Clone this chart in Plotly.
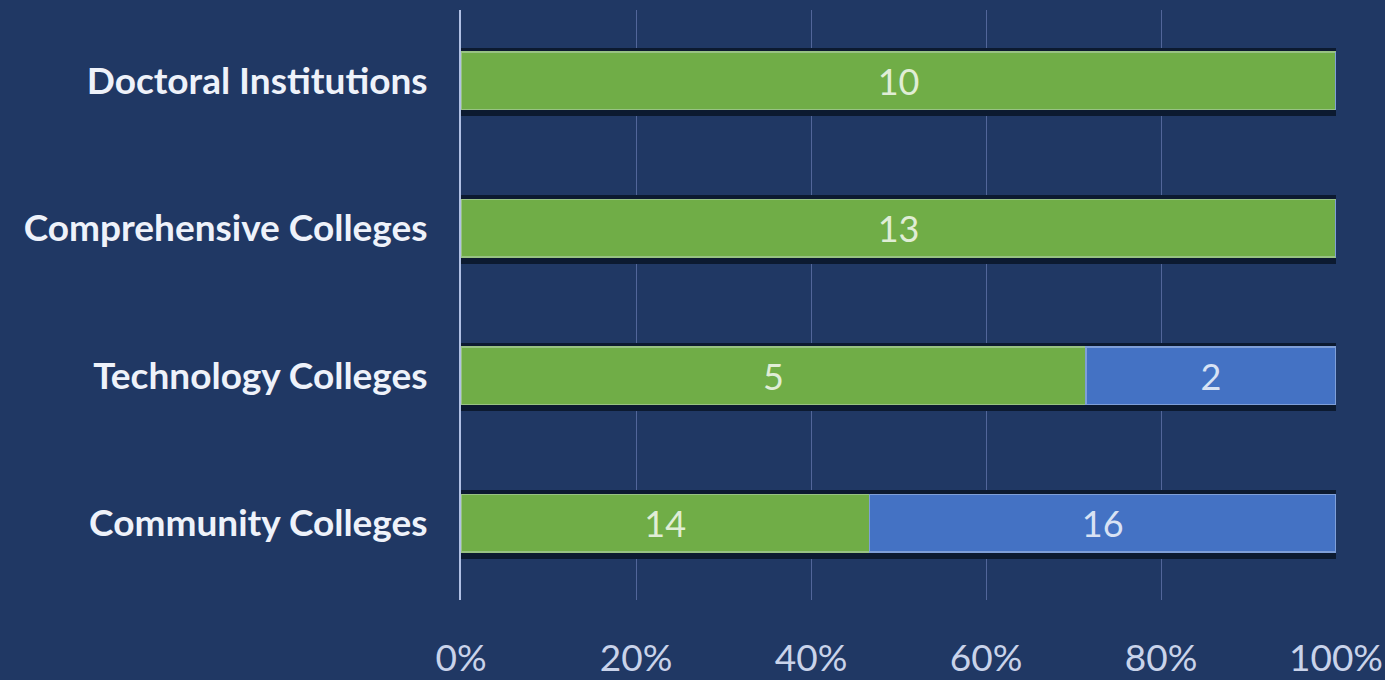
import plotly.graph_objects as go

categories = ["Community Colleges", "Technology Colleges", "Comprehensive Colleges", "Doctoral Institutions"]
green_counts = [14, 5, 13, 10]
blue_counts = [16, 2, 0, 0]
tick_vals = [0, 20, 40, 60, 80, 100]
tick_text = ["0%", "20%", "40%", "60%", "80%", "100%"]

totals = [g + b for g, b in zip(green_counts, blue_counts)]

bg = "#203864"
bar_w = 0.39
fig = go.Figure()
# soft dark shadow behind the bars
fig.add_trace(go.Bar(
    y=categories, x=totals, orientation="h",
    marker=dict(color="#0c1a30", line=dict(width=0)),
    width=bar_w + 0.075, offset=-(bar_w / 2) - 0.045,
    hoverinfo="skip", name="shadow", yaxis="y"))
fig.add_trace(go.Bar(
    y=categories, x=green_counts, orientation="h",
    marker=dict(color="#70ad47", line=dict(width=1.5, color="#98c283")),
    text=[str(v) if v else "" for v in green_counts],
    textposition="inside", insidetextanchor="middle",
    textfont=dict(family="Lato", size=36, color="#e0edd6"),
    width=bar_w, name="green", yaxis="y2"))
fig.add_trace(go.Bar(
    y=categories, x=blue_counts, orientation="h",
    marker=dict(color="#4472c4", line=dict(width=1.5, color="#7f9fd8")),
    text=[str(v) if v else "" for v in blue_counts],
    textposition="inside", insidetextanchor="middle",
    textfont=dict(family="Lato", size=36, color="#d8e2f4"),
    width=bar_w, name="blue", yaxis="y2"))

yr = [-0.52, 3.48]
fig.update_layout(
    barmode="stack", barnorm="percent",
    width=1385, height=680,
    paper_bgcolor=bg, plot_bgcolor=bg,
    margin=dict(l=461, r=49, t=10, b=80, autoexpand=False),
    showlegend=False,
    font=dict(family="Lato"),
    yaxis=dict(
        range=yr, categoryorder="array", categoryarray=categories,
        showgrid=False, zeroline=False, automargin=False,
        tickfont=dict(family="Lato", size=37, color="#eef2fa", weight="bold"),
        ticklabelstandoff=24, ticks="",
        showline=True, linecolor="#b0c0e4", linewidth=2,
    ),
    yaxis2=dict(
        range=yr, categoryorder="array", categoryarray=categories,
        overlaying="y", showgrid=False, zeroline=False, automargin=False,
        showticklabels=False, ticks="", showline=False,
    ),
)
fig.update_xaxes(
    range=[0, 100], tickvals=tick_vals, ticktext=tick_text,
    showgrid=True, gridcolor="#52669a", gridwidth=1,
    zeroline=False, showline=False, automargin=False,
    tickfont=dict(family="Lato", size=37, color="#c9d3ea"),
    ticklabelstandoff=33, ticks="", ticklabeloverflow="allow",
)
fig.write_html("out.html", config={"displayModeBar": False},
               post_script="document.body.style.margin='0';document.body.style.background='#203864';")
